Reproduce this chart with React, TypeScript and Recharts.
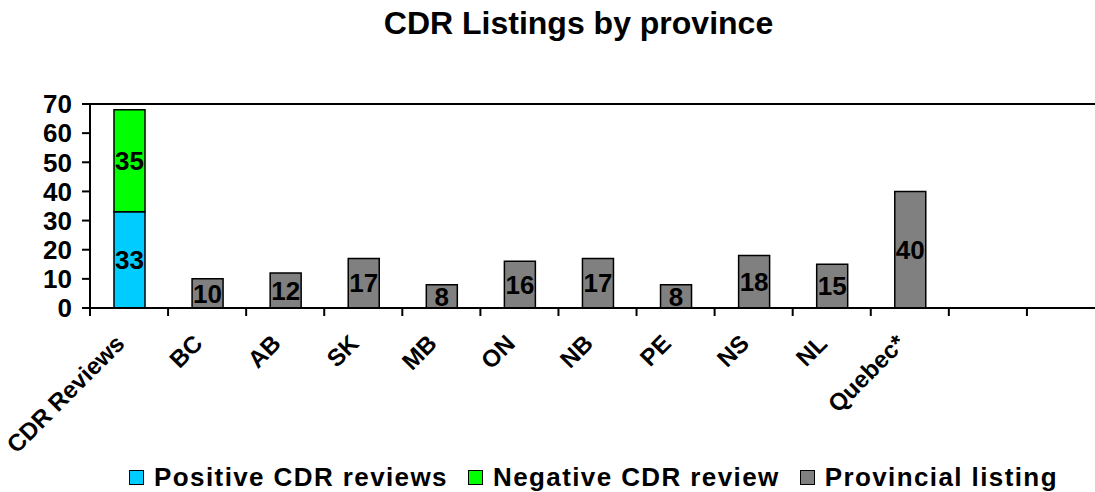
import React from 'react'
import { Bar, BarChart, LabelList, Legend, ReferenceLine, XAxis, YAxis } from 'recharts'

const categories = ['CDR Reviews', 'BC', 'AB', 'SK', 'MB', 'ON', 'NB', 'PE', 'NS', 'NL', 'Quebec*', '', '']
const positiveReviews = [33, null, null, null, null, null, null, null, null, null, null, null, null]
const negativeReviews = [35, null, null, null, null, null, null, null, null, null, null, null, null]
const provincialListing = [null, 10, 12, 17, 8, 16, 17, 8, 18, 15, 40, null, null]
const yTicks = [0, 10, 20, 30, 40, 50, 60, 70]
const legendOrder = ['Positive CDR reviews', 'Negative CDR review', 'Provincial listing']

const FONT = '"Liberation Sans", Arial, sans-serif'

const data = categories.map((name, i) => ({
  name,
  positive: positiveReviews[i],
  negative: negativeReviews[i],
  provincial: provincialListing[i],
}))

function CategoryTick(props: any) {
  const { x, y, payload } = props
  const half = payload?.offset ?? 39
  const axisY = y - 8
  const lx = x - 3
  const ly = y + 29
  return (
    <g>
      <line x1={x - half} y1={axisY} x2={x - half} y2={axisY + 8} stroke="#000" strokeWidth={2} />
      {payload.value ? (
        <text
          x={lx}
          y={ly}
          transform={`rotate(-45 ${lx} ${ly})`}
          textAnchor="end"
          fill="#000"
          fontSize={24}
          fontWeight="bold"
          fontFamily={FONT}
        >
          {payload.value}
        </text>
      ) : null}
    </g>
  )
}

function LegendContent(props: any) {
  const items = [...(props.payload || [])].sort(
    (a: any, b: any) => legendOrder.indexOf(a.value) - legendOrder.indexOf(b.value)
  )
  return (
    <div
      style={{
        display: 'flex',
        justifyContent: 'center',
        alignItems: 'center',
        height: 36,
        fontFamily: FONT,
        fontWeight: 'bold',
        fontSize: 26,
        lineHeight: '36px',
        letterSpacing: '1.4px',
        whiteSpace: 'nowrap',
      }}
    >
      {items.map((item: any, i: number) => (
        <div key={i} style={{ display: 'flex', alignItems: 'center', marginLeft: i ? 20 : 0 }}>
          <span
            style={{
              display: 'inline-block',
              width: 13,
              height: 13,
              background: item.color,
              border: '1.5px solid #000',
              marginRight: 10,
            }}
          />
          <span>{item.value}</span>
        </div>
      ))}
    </div>
  )
}

export default function App() {
  return (
    <div
      style={{
        position: 'fixed',
        top: 0,
        left: 0,
        width: 1095,
        height: 492,
        overflow: 'hidden',
        background: '#fff',
        fontFamily: FONT,
      }}
    >
      <div
        style={{
          position: 'absolute',
          top: 7,
          left: 0,
          width: 1157,
          textAlign: 'center',
          fontSize: 32,
          lineHeight: '32px',
          fontWeight: 'bold',
          color: '#000',
          zIndex: 2,
        }}
      >
        CDR Listings by province
      </div>
      <BarChart
        width={1120}
        height={492}
        data={data}
        margin={{ top: 104, right: 15, bottom: 34, left: 0 }}
        barSize={31}
      >
        <XAxis
          dataKey="name"
          interval={0}
          height={150}
          tickSize={8}
          tickMargin={0}
          tickLine={false}
          axisLine={{ stroke: '#000', strokeWidth: 2 }}
          tick={<CategoryTick />}
        />
        <YAxis
          width={90}
          domain={[0, 70]}
          ticks={yTicks}
          interval={0}
          tickSize={8}
          tickMargin={10}
          axisLine={{ stroke: '#000', strokeWidth: 2 }}
          tickLine={{ stroke: '#000', strokeWidth: 2 }}
          tick={{ fill: '#000', fontSize: 26, fontWeight: 'bold', fontFamily: FONT }}
        />
        <ReferenceLine y={70} stroke="#000" strokeWidth={2} />
        <Legend
          layout="horizontal"
          verticalAlign="middle"
          align="center"
          content={<LegendContent />}
          wrapperStyle={{ left: 0, top: 459, width: 1187, height: 36 }}
        />
        <Bar dataKey="positive" name="Positive CDR reviews" stackId="a" fill="#00CCFF" stroke="#000" strokeWidth={1.5} isAnimationActive={false}>
          <LabelList dataKey="positive" position="center" fill="#000" fontSize={26} fontWeight="bold" fontFamily={FONT} />
        </Bar>
        <Bar dataKey="negative" name="Negative CDR review" stackId="a" fill="#00FF00" stroke="#000" strokeWidth={1.5} isAnimationActive={false}>
          <LabelList dataKey="negative" position="center" fill="#000" fontSize={26} fontWeight="bold" fontFamily={FONT} />
        </Bar>
        <Bar dataKey="provincial" name="Provincial listing" stackId="a" fill="#808080" stroke="#000" strokeWidth={1.5} isAnimationActive={false}>
          <LabelList dataKey="provincial" position="center" fill="#000" fontSize={26} fontWeight="bold" fontFamily={FONT} />
        </Bar>
      </BarChart>
    </div>
  )
}
